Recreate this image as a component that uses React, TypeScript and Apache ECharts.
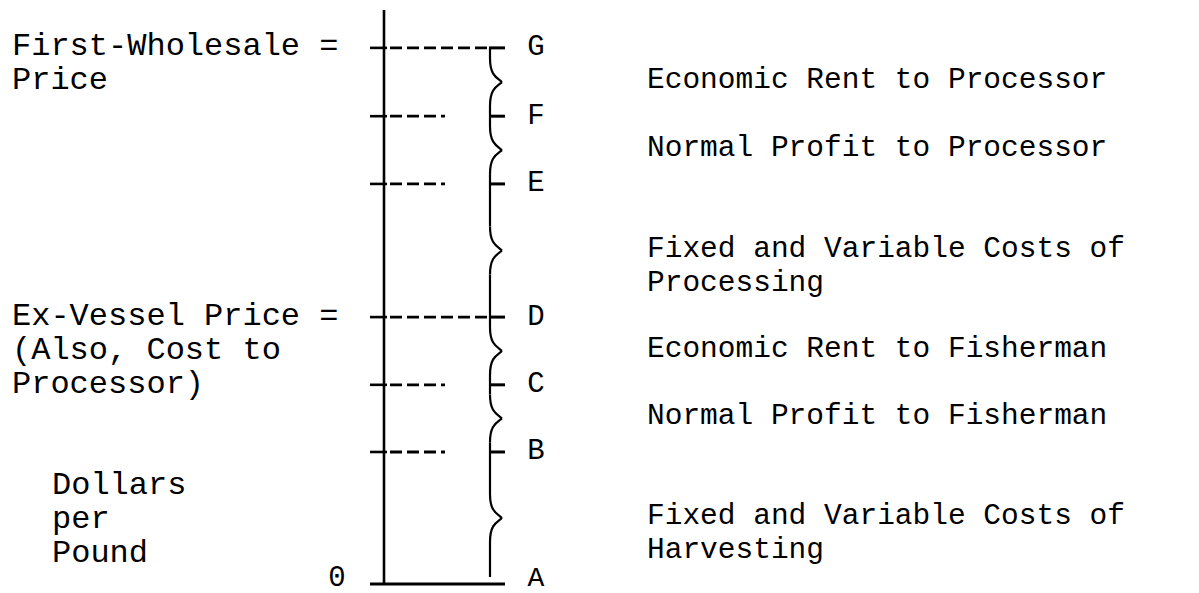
import React, { useEffect, useRef } from 'react';
import * as echarts from 'echarts';

// ---- data ----
const LEVEL_NAMES = ['A', 'B', 'C', 'D', 'E', 'F', 'G'];
const LEVEL_VALUES = [0, 23.0, 34.7, 46.5, 69.7, 81.5, 93.4];
const AXIS_MAX = 100;
const MAJOR_LEVELS = ['D', 'G'];
const SEGMENT_LABELS = [
  'Fixed and Variable Costs of\nHarvesting',
  'Normal Profit to Fisherman',
  'Economic Rent to Fisherman',
  'Fixed and Variable Costs of\nProcessing',
  'Normal Profit to Processor',
  'Economic Rent to Processor',
];
const LEFT_LABEL_LEVELS = ['G', 'D'];
const LEFT_LABEL_TEXTS = ['First-Wholesale =\nPrice', 'Ex-Vessel Price =\n(Also, Cost to\nProcessor)'];
const ORIGIN_LABEL = '0';
const Y_AXIS_NAME = 'Dollars\nper\nPound';

// ---- layout (pixel offsets relative to the vertical axis) ----
const X_MIN = -384;
const X_MAX = 815;
const TICK_LEFT = -14;
const DASH_START = 6;
const DASH_END_MAJOR = 103;
const DASH_END_MINOR = 61;
const BRACE_X = 106;
const BRACE_TICK_END = 121;
const BRACE_W = 12;
const LETTER_X = 152;
const RIGHT_TEXT_X = 263;
const LEFT_TEXT_X = -372;
const ORIGIN_X = -47;

const FONT = "'Liberation Mono', 'Courier New', monospace";
const INK = '#000';

export default function App() {
  const ref = useRef<HTMLDivElement>(null);

  useEffect(() => {
    if (!ref.current) return;
    const chart = echarts.init(ref.current, null, { renderer: 'svg' });

    const levelData = LEVEL_VALUES.map((v, i) => ({ value: [0, v], name: LEVEL_NAMES[i] }));
    const segData = LEVEL_VALUES.slice(1).map((hi, i) => [0, LEVEL_VALUES[i], hi]);
    const letterData = LEVEL_VALUES.map((v, i) => ({
      value: [LETTER_X, v],
      name: LEVEL_NAMES[i],
      label: i === 0 ? { position: [0, -6], fontSize: 28, lineHeight: 20 } : undefined,
    }));
    const midData = LEVEL_VALUES.slice(1).map((hi, i) => ({
      value: [RIGHT_TEXT_X, (hi + LEVEL_VALUES[i]) / 2],
      name: SEGMENT_LABELS[i],
    }));
    const leftData = LEFT_LABEL_LEVELS.map((n, i) => ({
      value: [LEFT_TEXT_X, LEVEL_VALUES[LEVEL_NAMES.indexOf(n)]],
      name: LEFT_LABEL_TEXTS[i],
    }));

    const solid = { stroke: INK, lineWidth: 2.6 };
    const textBase = { show: true, formatter: '{b}', fontFamily: FONT, color: INK, opacity: 1 };

    const option: any = {
      animation: false,
      backgroundColor: '#fff',
      grid: { left: 0, right: 0, top: 10, bottom: 9 },
      xAxis: { type: 'value', min: X_MIN, max: X_MAX, show: false },
      yAxis: { type: 'value', min: 0, max: AXIS_MAX, show: false },
      series: [
        {
          type: 'line',
          name: 'axis',
          data: [[0, 0], [0, AXIS_MAX]],
          symbol: 'none',
          silent: true,
          lineStyle: { color: INK, width: 2.6 },
        },
        {
          type: 'line',
          name: 'baseline',
          data: [[TICK_LEFT, 0], [BRACE_TICK_END, 0]],
          symbol: 'none',
          silent: true,
          clip: false,
          lineStyle: { color: INK, width: 3.2 },
        },
        {
          type: 'custom',
          name: 'levels',
          data: levelData,
          silent: true,
          renderItem: (params: any, api: any) => {
            const i = params.dataIndex;
            const p = api.coord([0, api.value(1)]);
            const children: any[] = [];
            if (i > 0) {
              const major = MAJOR_LEVELS.includes(LEVEL_NAMES[i]);
              children.push({ type: 'line', shape: { x1: p[0] + TICK_LEFT, y1: p[1], x2: p[0] + 3, y2: p[1] }, style: solid });
              children.push({
                type: 'line',
                shape: { x1: p[0] + DASH_START, y1: p[1], x2: p[0] + (major ? DASH_END_MAJOR : DASH_END_MINOR), y2: p[1] },
                style: { stroke: INK, lineWidth: 2.8, lineDash: [12, 5] },
              });
              children.push({ type: 'line', shape: { x1: p[0] + BRACE_X - 1, y1: p[1], x2: p[0] + BRACE_TICK_END, y2: p[1] }, style: { stroke: INK, lineWidth: 3 } });
            }
            return { type: 'group', children };
          },
        },
        {
          type: 'custom',
          name: 'braces',
          data: segData,
          silent: true,
          renderItem: (params: any, api: any) => {
            const lo = api.value(1);
            const hi = api.value(2);
            const pT = api.coord([0, hi]);
            const pB = api.coord([0, lo]);
            const x0 = pT[0] + BRACE_X;
            const yT = pT[1];
            const yB = params.dataIndex === 0 ? pB[1] - 7 : pB[1];
            const yM = (pT[1] + pB[1]) / 2;
            const half = (pB[1] - pT[1]) / 2;
            const r = Math.min(24, half - 4);
            const w = BRACE_W;
            const st = { stroke: INK, lineWidth: 2.2, fill: 'none' };
            return {
              type: 'group',
              children: [
                { type: 'line', shape: { x1: x0, y1: yT, x2: x0, y2: yM - r }, style: st },
                {
                  type: 'bezierCurve',
                  shape: { x1: x0, y1: yM - r, cpx1: x0, cpy1: yM - r * 0.3, cpx2: x0 + w * 0.5, cpy2: yM - r * 0.2, x2: x0 + w, y2: yM },
                  style: st,
                },
                {
                  type: 'bezierCurve',
                  shape: { x1: x0 + w, y1: yM, cpx1: x0 + w * 0.5, cpy1: yM + r * 0.2, cpx2: x0, cpy2: yM + r * 0.3, x2: x0, y2: yM + r },
                  style: st,
                },
                { type: 'line', shape: { x1: x0, y1: yM + r, x2: x0, y2: yB }, style: st },
              ],
            };
          },
        },
        {
          type: 'scatter',
          name: 'letters',
          symbolSize: 0,
          silent: true,
          itemStyle: { opacity: 1 },
          data: letterData,
          label: {
            ...textBase,
            position: [0, 0],
            align: 'center',
            verticalAlign: 'middle',
            fontSize: 29,
            lineHeight: 22,
          },
        },
        {
          type: 'scatter',
          name: 'segments',
          symbolSize: 0,
          silent: true,
          itemStyle: { opacity: 1 },
          data: midData,
          label: {
            ...textBase,
            position: [0, -19],
            align: 'left',
            verticalAlign: 'top',
            lineHeight: 34,
            fontSize: 29.5,
          },
        },
        {
          type: 'scatter',
          name: 'leftLabels',
          symbolSize: 0,
          silent: true,
          itemStyle: { opacity: 1 },
          data: leftData,
          label: {
            ...textBase,
            position: [0, -18],
            align: 'left',
            verticalAlign: 'top',
            lineHeight: 34,
            fontSize: 32,
          },
        },
        {
          type: 'scatter',
          name: 'origin',
          symbolSize: 0,
          silent: true,
          itemStyle: { opacity: 1 },
          data: [{ value: [ORIGIN_X, LEVEL_VALUES[0]], name: ORIGIN_LABEL }],
          label: {
            ...textBase,
            position: [0, -6],
            align: 'center',
            verticalAlign: 'middle',
            fontSize: 29,
            lineHeight: 20,
          },
        },
      ],
      graphic: [
        {
          type: 'text',
          left: 52,
          top: 468,
          silent: true,
          style: {
            text: Y_AXIS_NAME,
            fontFamily: FONT,
            fontSize: 32,
            lineHeight: 34,
            fill: INK,
          },
        },
      ],
    };

    chart.setOption(option);
    return () => chart.dispose();
  }, []);

  return (
    <div
      ref={ref}
      style={{ position: 'fixed', left: 0, top: 0, width: 1199, height: 593, background: '#fff' }}
    />
  );
}
